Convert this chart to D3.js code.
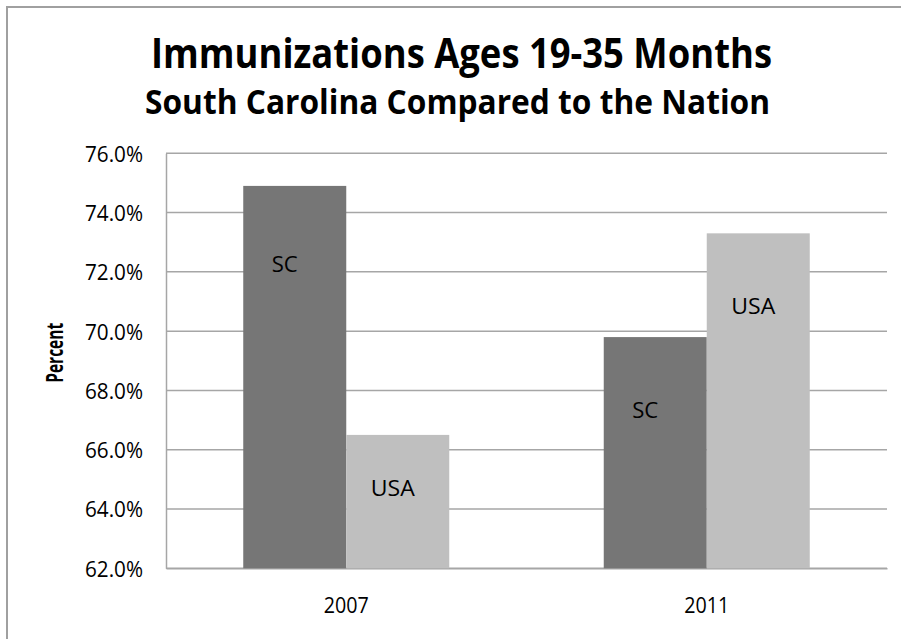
<!DOCTYPE html>
<html>
<head>
<meta charset="utf-8">
<script src="https://cdn.jsdelivr.net/npm/d3@7"></script>
<style>
  body { margin: 0; background: #fff; }
  text { font-family: "Open Sans", sans-serif; fill: #000; }
</style>
</head>
<body>
<svg id="chart"></svg>
<script>
// Chart data
const years = ['2007', '2011'];
const seriesNames = ['SC', 'USA'];
const scValues = [74.9, 69.8];
const usaValues = [66.5, 73.3];
const yTicks = [62, 64, 66, 68, 70, 72, 74, 76];
// where the series-name labels sit inside each bar (value units)
const scLabelAt = [72.0, 67.07];
const usaLabelAt = [64.44, 70.58];

const width = 901;
const height = 639;
const margin = { top: 153.3, right: 14, bottom: 70.7, left: 166 };
const colors = { SC: '#767676', USA: '#bfbfbf' };
const gridColor = '#a6a6a6';

const svg = d3.select('#chart')
  .attr('width', width)
  .attr('height', height);

// squeeze text to the width it has in the original (narrow font)
function fit(sel, w) {
  sel.attr('textLength', w).attr('lengthAdjust', 'spacingAndGlyphs');
}

// outer chart border (right and bottom edges are cut off in the reference)
svg.append('rect')
  .attr('x', 7).attr('y', 7)
  .attr('width', 1000).attr('height', 1000)
  .attr('fill', 'none')
  .attr('stroke', '#a0a0a0')
  .attr('stroke-width', 2);

// Titles
svg.append('text')
  .attr('x', 461.5).attr('y', 68)
  .attr('text-anchor', 'middle')
  .attr('font-size', 41).attr('font-weight', 'bold')
  .text('Immunizations Ages 19-35 Months')
  .call(fit, 621);

svg.append('text')
  .attr('x', 457.5).attr('y', 114)
  .attr('text-anchor', 'middle')
  .attr('font-size', 34).attr('font-weight', 'bold')
  .text('South Carolina Compared to the Nation')
  .call(fit, 625);

const g = svg.append('g');

// Scales
const x0 = d3.scaleBand()
  .domain(years)
  .range([margin.left, width - margin.right])
  .paddingInner(1.5 / 3.5)
  .paddingOuter(0.75 / 3.5);

const x1 = d3.scaleBand()
  .domain(seriesNames)
  .range([0, x0.bandwidth()]);

const y = d3.scaleLinear()
  .domain([62, 76])
  .range([height - margin.bottom, margin.top]);

// Gridlines
g.selectAll('line.grid')
  .data(yTicks)
  .join('line')
  .attr('class', 'grid')
  .attr('x1', margin.left)
  .attr('x2', width - margin.right)
  .attr('y1', d => y(d))
  .attr('y2', d => y(d))
  .attr('stroke', gridColor)
  .attr('stroke-width', 1.5);

// Y axis
const yAxis = g.append('g')
  .attr('transform', `translate(${margin.left},0)`)
  .call(d3.axisLeft(y).tickValues(yTicks).tickSize(0).tickPadding(23)
    .tickFormat(d => d.toFixed(1) + '%'));
yAxis.select('.domain').attr('stroke', gridColor).attr('stroke-width', 1.5);
yAxis.selectAll('text')
  .attr('font-size', 22)
  .attr('font-family', '"Open Sans", sans-serif')
  .attr('fill', '#000')
  .attr('dy', '0.36em')
  .call(fit, 58);

// X axis
const xAxis = g.append('g')
  .attr('transform', `translate(0,${y(62)})`)
  .call(d3.axisBottom(x0).tickSize(0).tickPadding(29));
xAxis.select('.domain').attr('stroke', gridColor).attr('stroke-width', 1.5);
xAxis.selectAll('text')
  .attr('font-size', 22)
  .attr('font-family', '"Open Sans", sans-serif')
  .attr('fill', '#000')
  .call(fit, 45);

// Y axis title
svg.append('text')
  .attr('transform', `translate(63,${(y(62) + y(76)) / 2 - 8}) rotate(-90)`)
  .attr('text-anchor', 'middle')
  .attr('font-size', 23).attr('font-weight', 'bold')
  .text('Percent')
  .call(fit, 60);

// Bars
const rows = years.map((yr, i) => ({
  year: yr,
  values: [
    { name: 'SC', value: scValues[i], labelAt: scLabelAt[i] },
    { name: 'USA', value: usaValues[i], labelAt: usaLabelAt[i] }
  ]
}));

const groups = g.selectAll('g.year')
  .data(rows)
  .join('g')
  .attr('class', 'year')
  .attr('transform', d => `translate(${x0(d.year)},0)`);

groups.selectAll('rect')
  .data(d => d.values)
  .join('rect')
  .attr('x', d => x1(d.name))
  .attr('width', x1.bandwidth())
  .attr('y', d => y(d.value))
  .attr('height', d => y(62) - y(d.value))
  .attr('fill', d => colors[d.name]);

// series-name labels inside the bars
const labelDx = { SC: -10, USA: -5 };
const labelW = { SC: 26, USA: 44 };
groups.selectAll('text.lbl')
  .data(d => d.values)
  .join('text')
  .attr('class', 'lbl')
  .attr('x', d => x1(d.name) + x1.bandwidth() / 2 + labelDx[d.name])
  .attr('y', d => y(d.labelAt))
  .attr('text-anchor', 'middle')
  .attr('font-size', 22)
  .text(d => d.name)
  .each(function (d) { d3.select(this).call(fit, labelW[d.name]); });
</script>
</body>
</html>
